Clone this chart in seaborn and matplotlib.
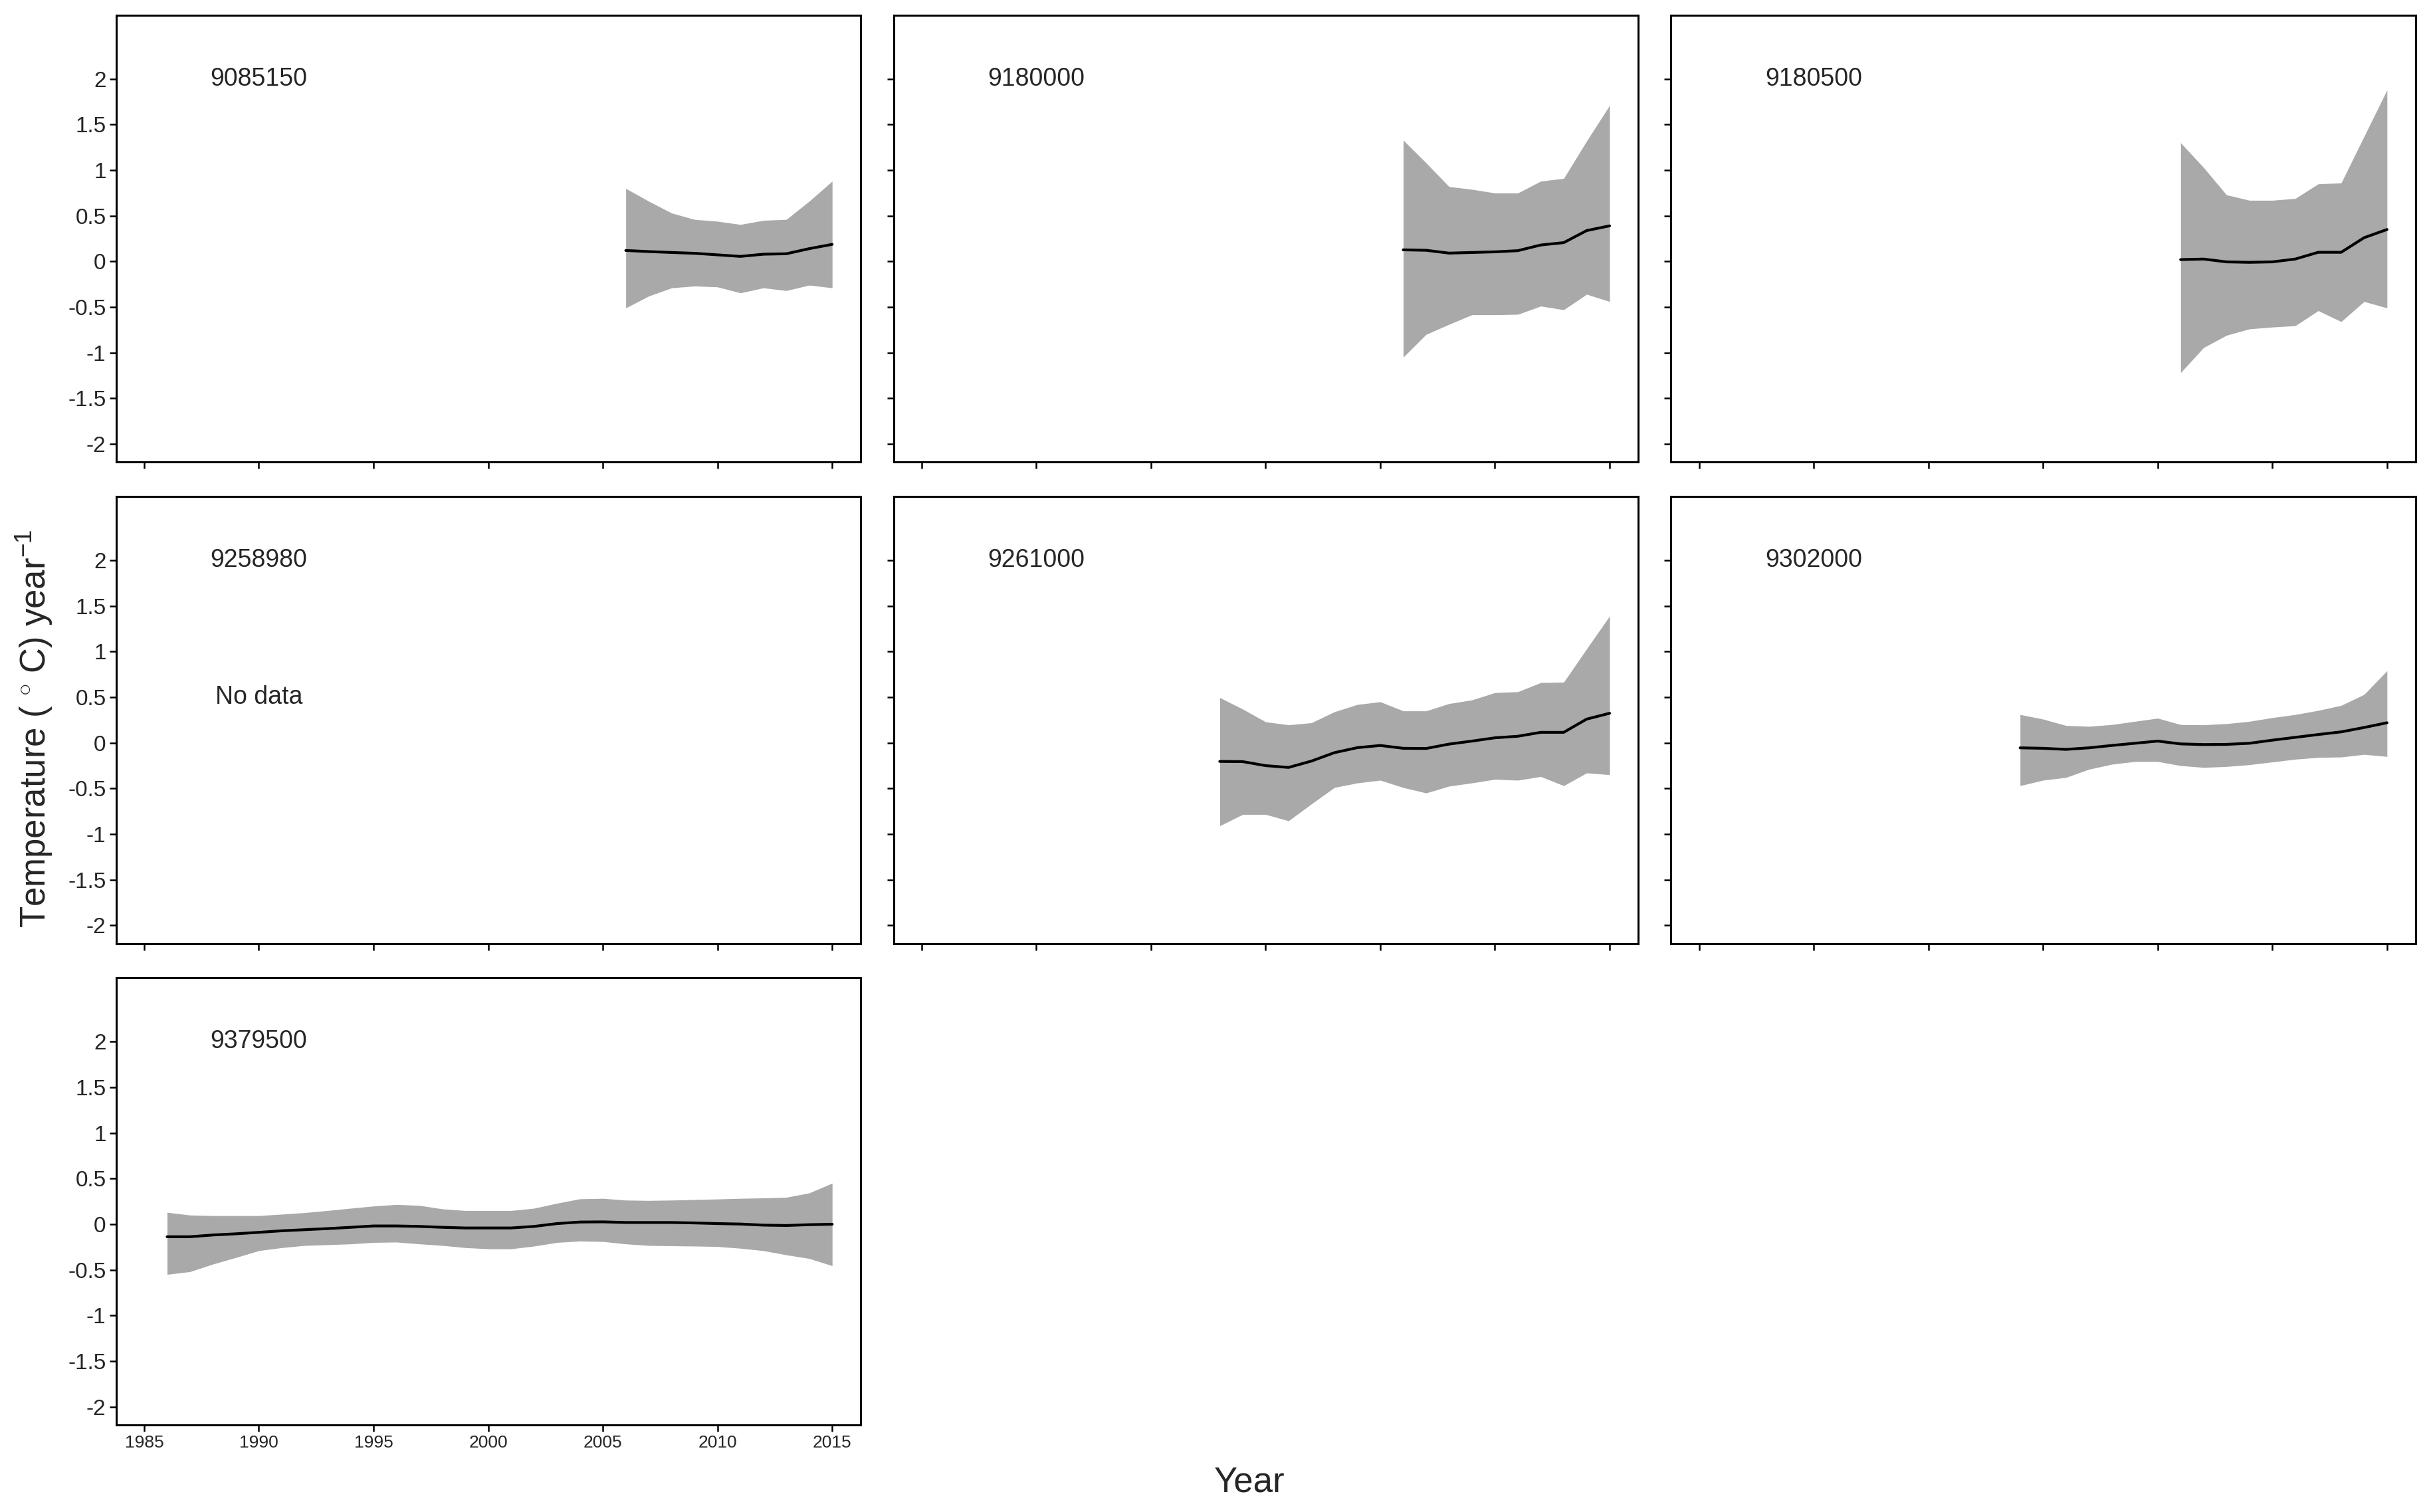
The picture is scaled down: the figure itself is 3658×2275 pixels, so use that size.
import matplotlib
matplotlib.use('Agg')
from matplotlib import pyplot as plt
from matplotlib.ticker import FuncFormatter
import seaborn as sns
import pandas as pd

# Stations in panel order (row by row)
stations = ['9085150', '9180000', '9180500', '9258980', '9261000', '9302000', '9379500']

# 9085150
years_9085150 = [2006, 2007, 2008, 2009, 2010, 2011, 2012, 2013, 2014, 2015]
fit_9085150 = [0.12, 0.108, 0.098, 0.089, 0.072, 0.055, 0.079, 0.084, 0.14, 0.187]
upper_9085150 = [0.80, 0.66, 0.53, 0.46, 0.44, 0.405, 0.45, 0.46, 0.66, 0.88]
lower_9085150 = [-0.51, -0.38, -0.29, -0.27, -0.28, -0.345, -0.29, -0.32, -0.26, -0.29]

# 9180000
years_9180000 = [2006, 2007, 2008, 2009, 2010, 2011, 2012, 2013, 2014, 2015]
fit_9180000 = [0.127, 0.122, 0.091, 0.098, 0.105, 0.118, 0.18, 0.206, 0.338, 0.39]
upper_9180000 = [1.33, 1.08, 0.82, 0.79, 0.75, 0.75, 0.88, 0.91, 1.32, 1.71]
lower_9180000 = [-1.05, -0.80, -0.69, -0.585, -0.585, -0.58, -0.49, -0.53, -0.36, -0.44]

# 9180500
years_9180500 = [2006, 2007, 2008, 2009, 2010, 2011, 2012, 2013, 2014, 2015]
fit_9180500 = [0.02, 0.026, -0.005, -0.01, -0.005, 0.026, 0.10, 0.10, 0.26, 0.35]
upper_9180500 = [1.30, 1.03, 0.73, 0.67, 0.67, 0.69, 0.85, 0.86, 1.37, 1.88]
lower_9180500 = [-1.22, -0.945, -0.81, -0.74, -0.72, -0.705, -0.54, -0.66, -0.44, -0.51]

# 9261000
years_9261000 = [1998, 1999, 2000, 2001, 2002, 2003, 2004, 2005, 2006,
                 2007, 2008, 2009, 2010, 2011, 2012, 2013, 2014, 2015]
fit_9261000 = [-0.204, -0.206, -0.25, -0.27, -0.2, -0.108, -0.053, -0.029, -0.06,
               -0.062, -0.014, 0.019, 0.055, 0.072, 0.115, 0.115, 0.26, 0.324]
upper_9261000 = [0.496, 0.37, 0.23, 0.197, 0.22, 0.34, 0.42, 0.45, 0.35,
                 0.35, 0.43, 0.47, 0.55, 0.56, 0.66, 0.665, 1.03, 1.39]
lower_9261000 = [-0.91, -0.785, -0.785, -0.855, -0.67, -0.49, -0.44, -0.41, -0.49,
                 -0.55, -0.475, -0.44, -0.40, -0.41, -0.37, -0.47, -0.33, -0.35]

# 9302000
years_9302000 = [1999, 2000, 2001, 2002, 2003, 2004, 2005, 2006, 2007,
                 2008, 2009, 2010, 2011, 2012, 2013, 2014, 2015]
fit_9302000 = [-0.055, -0.06, -0.072, -0.055, -0.029, -0.005, 0.019, -0.012, -0.019,
               -0.017, -0.005, 0.029, 0.06, 0.091, 0.12, 0.168, 0.22]
upper_9302000 = [0.31, 0.26, 0.19, 0.18, 0.20, 0.235, 0.27, 0.20, 0.197,
                 0.21, 0.235, 0.276, 0.31, 0.355, 0.41, 0.53, 0.79]
lower_9302000 = [-0.47, -0.41, -0.38, -0.29, -0.235, -0.205, -0.205, -0.25, -0.27,
                 -0.26, -0.24, -0.21, -0.18, -0.16, -0.156, -0.127, -0.15]

# 9379500
years_9379500 = [1986, 1987, 1988, 1989, 1990, 1991, 1992, 1993, 1994, 1995,
                 1996, 1997, 1998, 1999, 2000, 2001, 2002, 2003, 2004, 2005,
                 2006, 2007, 2008, 2009, 2010, 2011, 2012, 2013, 2014, 2015]
fit_9379500 = [-0.137, -0.137, -0.118, -0.105, -0.089, -0.072, -0.06, -0.048, -0.034, -0.019,
               -0.019, -0.024, -0.034, -0.041, -0.041, -0.041, -0.024, 0.007, 0.024, 0.026,
               0.019, 0.019, 0.019, 0.014, 0.007, 0.002, -0.01, -0.014, -0.005, 0.0]
upper_9379500 = [0.13, 0.10, 0.094, 0.094, 0.094, 0.11, 0.127, 0.15, 0.175, 0.199,
                 0.216, 0.206, 0.168, 0.15, 0.15, 0.15, 0.175, 0.23, 0.278, 0.283,
                 0.264, 0.26, 0.264, 0.27, 0.276, 0.283, 0.288, 0.295, 0.343, 0.45]
lower_9379500 = [-0.55, -0.52, -0.437, -0.365, -0.29, -0.257, -0.233, -0.225, -0.216, -0.20,
                 -0.196, -0.216, -0.233, -0.257, -0.27, -0.27, -0.24, -0.20, -0.185, -0.19,
                 -0.216, -0.233, -0.237, -0.24, -0.245, -0.264, -0.29, -0.336, -0.376, -0.455]

year_ticks = [1985, 1990, 1995, 2000, 2005, 2010, 2015]
temp_ticks = [-2, -1.5, -1, -0.5, 0, 0.5, 1, 1.5, 2]

series = {
    '9085150': (years_9085150, fit_9085150, lower_9085150, upper_9085150),
    '9180000': (years_9180000, fit_9180000, lower_9180000, upper_9180000),
    '9180500': (years_9180500, fit_9180500, lower_9180500, upper_9180500),
    '9261000': (years_9261000, fit_9261000, lower_9261000, upper_9261000),
    '9302000': (years_9302000, fit_9302000, lower_9302000, upper_9302000),
    '9379500': (years_9379500, fit_9379500, lower_9379500, upper_9379500),
}

sns.set_theme(style='ticks')
plt.rcParams['font.family'] = ['Liberation Sans', 'DejaVu Sans']
plt.rcParams['mathtext.fontset'] = 'custom'
plt.rcParams['mathtext.rm'] = 'Liberation Sans'
plt.rcParams['mathtext.it'] = 'Liberation Sans'

fig, axes = plt.subplots(3, 3, figsize=(18.29, 11.375), sharex=True, sharey=True)
fig.subplots_adjust(left=0.0478, right=0.9937, top=0.990, bottom=0.0576,
                    wspace=0.044, hspace=0.077)

for i, name in enumerate(stations):
    ax = axes.flat[i]
    if name in series:
        yrs, fit, lo, hi = series[name]
        df = pd.DataFrame({'year': yrs, 'fit': fit, 'lower': lo, 'upper': hi})
        ax.fill_between(df['year'], df['lower'], df['upper'], color='#a9a9a9', linewidth=0)
        sns.lineplot(data=df, x='year', y='fit', ax=ax, color='black', linewidth=1.5)
    else:
        ax.text(1990, 0.5, 'No data', ha='center', va='center', fontsize=13.5)
    ax.text(1990, 2.0, name, ha='center', va='center', fontsize=13.5)
    ax.set_xlabel('')
    ax.set_ylabel('')

for ax in axes.flat[len(stations):]:
    ax.remove()

for ax in axes.flat[:len(stations)]:
    ax.set_xlim(1983.78, 2016.25)
    ax.set_ylim(-2.2, 2.7)
    ax.set_xticks(year_ticks)
    ax.set_yticks(temp_ticks)
    ax.yaxis.set_major_formatter(FuncFormatter(lambda v, p: f'{v:g}'))
    for side in ['top', 'right', 'bottom', 'left']:
        ax.spines[side].set_visible(True)
        ax.spines[side].set_color('black')
        ax.spines[side].set_linewidth(1.1)
    ax.tick_params(axis='both', direction='out', length=3.5, width=0.9, color='black', pad=2)
    ax.tick_params(axis='y', labelsize=12)
    ax.tick_params(axis='x', labelsize=9.5)
    for lab in ax.get_xticklabels():
        lab.set_family(['Liberation Sans Narrow', 'Liberation Sans'])

fig.text(0.014, 0.518, r'Temperature ( $^{\circ}$ C) year$^{-1}$', rotation=90,
         ha='center', va='center', fontsize=19)
fig.text(0.514, 0.0195, 'Year', ha='center', va='center', fontsize=19)

fig.savefig('out.png', dpi=200)
plt.close()
